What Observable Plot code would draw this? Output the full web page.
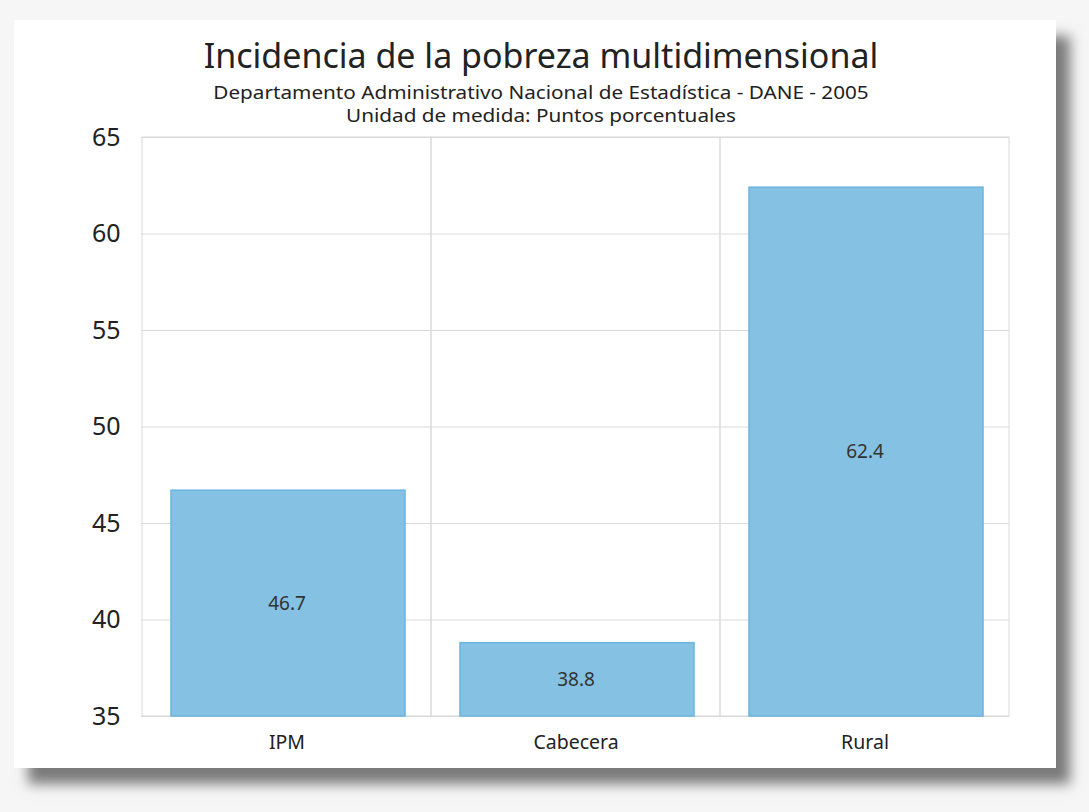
<!DOCTYPE html>
<html>
<head>
<meta charset="utf-8">
<script src="https://cdn.jsdelivr.net/npm/d3@7"></script>
<script src="https://cdn.jsdelivr.net/npm/@observablehq/plot@0.6"></script>
<style>
  html, body { margin: 0; padding: 0; }
  body { width: 1089px; height: 812px; background: #f6f6f6; position: relative; overflow: hidden; font-family: "Noto Sans", sans-serif; }
  #card { position: absolute; left: 14px; top: 20px; width: 1042px; height: 748px; background: #fff;
          box-shadow: 14px 16px 12px rgba(0,0,0,0.5); }
  .t { position: absolute; left: 0; width: 1054px; text-align: center; color: #222; white-space: nowrap; }
  #title { top: 15px; font-size: 34px; line-height: 40px; }
  #sub1 { top: 61px; font-size: 18px; line-height: 22px; transform: scaleX(1.15); transform-origin: 527px 50%; }
  #sub2 { top: 84px; font-size: 18px; line-height: 22px; transform: scaleX(1.15); transform-origin: 527px 50%; }
  #chart { position: absolute; left: 0; top: 85px; }
</style>
</head>
<body>
<div id="card">
  <div id="chart"></div>
  <div class="t" id="title">Incidencia de la pobreza multidimensional</div>
  <div class="t" id="sub1">Departamento Administrativo Nacional de Estadística - DANE - 2005</div>
  <div class="t" id="sub2">Unidad de medida: Puntos porcentuales</div>
</div>
<script>
const categories = ["IPM", "Cabecera", "Rural"];
const values = [46.7, 38.8, 62.4];
const yTicks = [35, 40, 45, 50, 55, 60, 65];
const yBase = 35;
const yTop = 65;

const data = categories.map((c, i) => ({cat: c, value: values[i]}));

const chart = Plot.plot({
  width: 1042,
  height: 663,
  marginLeft: 127,
  marginRight: 47,
  marginTop: 32,
  marginBottom: 52,
  style: {fontFamily: "Noto Sans", background: "transparent", color: "#222"},
  x: {domain: categories, padding: 0, label: null, axis: null},
  y: {domain: [yBase, yTop], label: null, axis: null},
  marks: [
    Plot.gridY(yTicks, {stroke: "#d9d9d9", strokeOpacity: 1}),
    Plot.barY(categories, {x: d => d, y1: yBase, y2: yTop, fill: "none", stroke: "#d9d9d9"}),
    Plot.barY(data, {x: "cat", y1: yBase, y2: "value", insetLeft: 29, insetRight: 26,
      fill: "#84c1e2", stroke: "#6ab5de", strokeWidth: 1.5}),
    Plot.text(data, {x: "cat", y: d => (yBase + d.value) / 2, text: d => d.value.toFixed(1),
      fontSize: 19, fill: "#333"}),
    Plot.axisY({ticks: yTicks, tickSize: 0, tickPadding: 21, fontSize: 25, label: null}),
    Plot.axisX({tickSize: 0, tickPadding: 19, fontSize: 19.5, label: null})
  ]
});
document.getElementById("chart").appendChild(chart);
</script>
</body>
</html>
